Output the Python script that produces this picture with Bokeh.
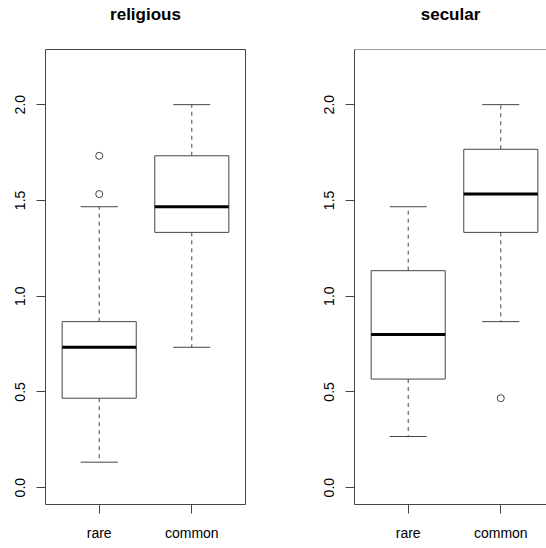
from bokeh.plotting import figure
from bokeh.models import Range1d, FixedTicker, Span, PrintfTickFormatter, Title
from bokeh.layouts import row
from bokeh.embed import file_html
from bokeh.resources import INLINE

# ---- data ----
categories = ["rare", "common"]
cat_pos = [1, 2]
y_ticks = [0.0, 0.5, 1.0, 1.5, 2.0]

religious_lower = [0.133, 0.733]
religious_q1 = [0.467, 1.333]
religious_median = [0.733, 1.467]
religious_q3 = [0.867, 1.733]
religious_upper = [1.467, 2.0]
religious_out_x = [1, 1]
religious_out_y = [1.533, 1.733]

secular_lower = [0.267, 0.867]
secular_q1 = [0.567, 1.333]
secular_median = [0.800, 1.533]
secular_q3 = [1.133, 1.767]
secular_upper = [1.467, 2.0]
secular_out_x = [2]
secular_out_y = [0.467]

FONT = "Liberation Sans"
LINE = "#444444"
BOX_W = 0.8
CAP_W = 0.4
FRAME_H = 455


def panel(title, lower, q1, med, q3, upper, ox, oy, min_left, frame_w, x_end,
          min_right, outline, title_offset):
    p = figure(frame_width=frame_w, frame_height=FRAME_H,
               min_border_left=min_left, min_border_right=min_right,
               min_border_top=49, min_border_bottom=36,
               x_range=Range1d(0.42, x_end), y_range=Range1d(-0.088, 2.288),
               output_backend="svg", toolbar_location=None,
               background_fill_color="white", border_fill_color="white")
    p.title = None
    # spacer between frame and title
    p.add_layout(Title(text=" ", text_font_size="1px", standoff=23), "above")
    p.add_layout(Title(text=title, align="center", text_font=FONT,
                       text_font_size="17px", text_font_style="bold",
                       text_color="black", standoff=0, offset=title_offset),
                 "above")
    p.xgrid.visible = False
    p.ygrid.visible = False
    if outline:
        p.outline_line_color = LINE
        p.outline_line_width = 1
    else:
        p.outline_line_color = None
        p.add_layout(Span(location=2.288, dimension="width",
                          line_color=LINE, line_width=1))

    for ax in (p.xaxis[0], p.yaxis[0]):
        ax.major_tick_in = 0
        ax.major_tick_out = 9
        ax.minor_tick_line_color = None
        ax.major_tick_line_color = LINE
        ax.axis_line_color = LINE if not outline else None
        ax.major_label_text_font = FONT
        ax.major_label_text_font_size = "14px"
        ax.major_label_text_color = "black"

    p.xaxis.ticker = FixedTicker(ticks=cat_pos)
    p.xaxis.major_label_overrides = {c: l for c, l in zip(cat_pos, categories)}
    p.xaxis.major_label_standoff = 11
    p.yaxis.ticker = FixedTicker(ticks=y_ticks)
    p.yaxis.formatter = PrintfTickFormatter(format="%.1f")
    p.yaxis.major_label_orientation = "vertical"
    p.yaxis.major_label_standoff = 11

    # whiskers (dashed)
    p.segment(x0=cat_pos, y0=q3, x1=cat_pos, y1=upper, line_color=LINE,
              line_width=1, line_dash="4 4")
    p.segment(x0=cat_pos, y0=q1, x1=cat_pos, y1=lower, line_color=LINE,
              line_width=1, line_dash="4 4")
    # caps
    left_c = [c - CAP_W / 2 for c in cat_pos]
    right_c = [c + CAP_W / 2 for c in cat_pos]
    p.segment(x0=left_c, y0=upper, x1=right_c, y1=upper, line_color=LINE, line_width=1)
    p.segment(x0=left_c, y0=lower, x1=right_c, y1=lower, line_color=LINE, line_width=1)
    # boxes
    p.vbar(x=cat_pos, width=BOX_W, bottom=q1, top=q3, fill_color="white",
           line_color=LINE, line_width=1)
    # medians
    left_b = [c - BOX_W / 2 for c in cat_pos]
    right_b = [c + BOX_W / 2 for c in cat_pos]
    p.segment(x0=left_b, y0=med, x1=right_b, y1=med, line_color="black", line_width=3)
    # outliers
    p.scatter(x=ox, y=oy, size=7, marker="circle", fill_color=None,
              line_color=LINE, line_width=1)
    return p


p1 = panel("religious", religious_lower, religious_q1, religious_median,
           religious_q3, religious_upper, religious_out_x, religious_out_y,
           45, 200, 2.58, 63, True, 0)
p2 = panel("secular", secular_lower, secular_q1, secular_median,
           secular_q3, secular_upper, secular_out_x, secular_out_y,
           46, 192, 0.42 + 192 / 200 * 2.16, 0, False, 4)

layout = row(p1, p2)
open("out.html", "w").write(file_html(layout, INLINE))
